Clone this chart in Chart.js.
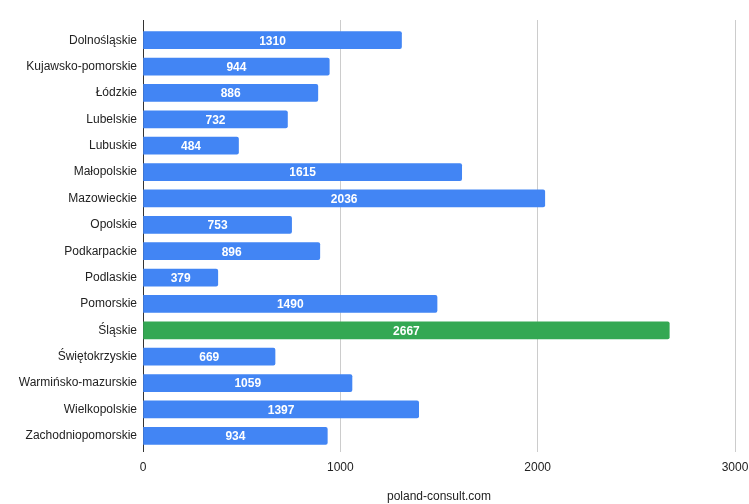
<!DOCTYPE html>
<html>
<head>
<meta charset="utf-8">
<script src="https://cdn.jsdelivr.net/npm/chart.js@4"></script>
<style>
  body { margin: 0; background: #fff; }
  #wrap { width: 749px; height: 504px; }
</style>
</head>
<body>
<div id="wrap"><canvas id="myChart" width="749" height="504"></canvas></div>
<script>
// regions and their values
let regions = ['Dolnośląskie', 'Kujawsko-pomorskie', 'Łódzkie', 'Lubelskie', 'Lubuskie',
  'Małopolskie', 'Mazowieckie', 'Opolskie', 'Podkarpackie', 'Podlaskie', 'Pomorskie',
  'Śląskie', 'Świętokrzyskie', 'Warmińsko-mazurskie', 'Wielkopolskie', 'Zachodniopomorskie'];
let values = [1310, 944, 886, 732, 484, 1615, 2036, 753, 896, 379, 1490, 2667, 669, 1059, 1397, 934];
let xTicks = [0, 1000, 2000, 3000];
let highlight = 'Śląskie';
let axisTitle = 'poland-consult.com';

let colors = regions.map(r => r === highlight ? '#34A853' : '#4285F4');

// draws the value in the middle of each bar
let barLabels = {
  id: 'barLabels',
  afterDatasetsDraw(chart) {
    let ctx = chart.ctx;
    let meta = chart.getDatasetMeta(0);
    ctx.save();
    ctx.font = 'bold 12px "Liberation Sans", Arial, sans-serif';
    ctx.fillStyle = '#ffffff';
    ctx.textAlign = 'center';
    ctx.textBaseline = 'middle';
    meta.data.forEach((bar, i) => {
      ctx.fillText(String(values[i]), (bar.x + bar.base) / 2, bar.y + 1);
    });
    ctx.restore();
  }
};

// grid lines reach a little past the plot area, top and bottom
let gridExtend = {
  id: 'gridExtend',
  beforeDatasetsDraw(chart) {
    let ctx = chart.ctx;
    let area = chart.chartArea;
    let x = chart.scales.x;
    ctx.save();
    ctx.lineWidth = 1;
    xTicks.forEach(v => {
      let px = Math.round(x.getPixelForValue(v) - 0.5) + 0.5;
      ctx.strokeStyle = v === 0 ? '#333333' : '#cccccc';
      ctx.beginPath();
      ctx.moveTo(px, area.top - 7);
      ctx.lineTo(px, area.top);
      ctx.moveTo(px, area.bottom);
      ctx.lineTo(px, area.bottom + 3);
      ctx.stroke();
    });
    ctx.restore();
  }
};

let ctx = document.getElementById('myChart').getContext('2d');
let myChart = new Chart(ctx, {
  type: 'bar',
  data: {
    labels: regions,
    datasets: [{
      data: values,
      backgroundColor: colors,
      barThickness: 17,
      borderRadius: 2,
      borderSkipped: 'start'
    }]
  },
  options: {
    indexAxis: 'y',
    responsive: false,
    animation: false,
    layout: { padding: { top: 27, right: 14, bottom: 0, left: 0 } },
    plugins: {
      legend: { display: false },
      tooltip: { enabled: false }
    },
    scales: {
      x: {
        min: 0,
        max: 3000,
        afterBuildTicks: scale => { scale.ticks = xTicks.map(v => ({ value: v })); },
        afterFit: scale => {
          scale.height = 55;
          scale.paddingLeft = 0;
          scale.paddingRight = 0;
        },
        grid: {
          drawTicks: false,
          color: c => c.tick && c.tick.value === 0 ? '#333333' : '#cccccc'
        },
        border: { display: false },
        ticks: {
          padding: 11,
          color: '#222',
          callback: v => String(v),
          font: { family: '"Liberation Sans", Arial, sans-serif', size: 12 }
        },
        title: {
          display: true,
          text: axisTitle,
          color: '#222',
          padding: { top: 0, bottom: 0 },
          font: { family: '"Liberation Sans", Arial, sans-serif', size: 12 }
        }
      },
      y: {
        afterFit: scale => { scale.width = 143; },
        grid: { display: false, drawTicks: false },
        border: { display: true, color: '#333333' },
        ticks: {
          padding: 6,
          color: '#222',
          font: { family: '"Liberation Sans", Arial, sans-serif', size: 12 }
        }
      }
    }
  },
  plugins: [gridExtend, barLabels]
});
</script>
</body>
</html>
